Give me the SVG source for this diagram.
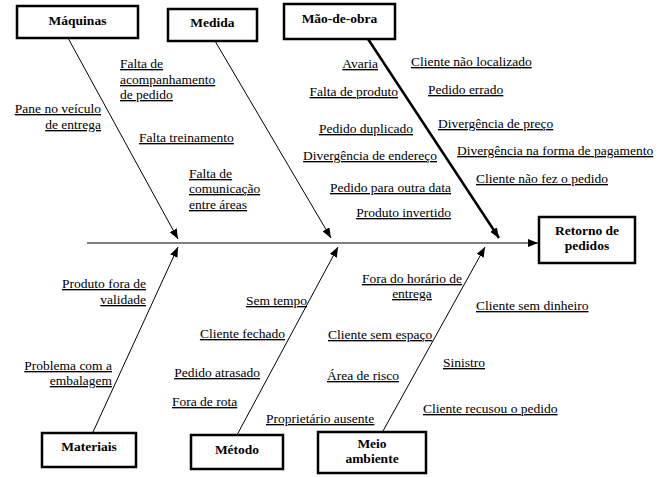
<svg xmlns="http://www.w3.org/2000/svg" width="661" height="477" viewBox="0 0 661 477">
<style>
.box{fill:#fff;stroke:#000;stroke-width:2.5}
.lbl{font-family:"Liberation Serif","Times New Roman",serif;font-size:13.5px;font-weight:bold;fill:#000;text-anchor:middle}
.t{font-family:"Liberation Serif","Times New Roman",serif;font-size:13.5px;fill:#000;text-decoration:underline}
.e{text-anchor:end}
.m{text-anchor:middle}
.ln{stroke:#000;stroke-width:1;fill:none}
</style>
<defs>
<marker id="ah" viewBox="0 0 10 8" refX="10" refY="4" markerWidth="10" markerHeight="8" markerUnits="userSpaceOnUse" orient="auto">
<path d="M0,0 L10,4 L0,8 Z" fill="#000"/>
</marker>
</defs>
<rect width="661" height="477" fill="#fff"/>
<g id="connectors">
<line class="ln" x1="87" y1="243" x2="538" y2="243" stroke-width="1.3" marker-end="url(#ah)"/>
<line class="ln" x1="68" y1="38" x2="178" y2="239" marker-end="url(#ah)"/>
<line class="ln" x1="215" y1="41" x2="331" y2="238" marker-end="url(#ah)"/>
<line class="ln" x1="368" y1="39" x2="499" y2="238" style="stroke-width:2.5" marker-end="url(#ah)"/>
<line class="ln" x1="93" y1="432" x2="178" y2="247" marker-end="url(#ah)"/>
<line class="ln" x1="237" y1="435" x2="338" y2="247" marker-end="url(#ah)"/>
<line class="ln" x1="383" y1="431" x2="485" y2="247" marker-end="url(#ah)"/>
</g>
<g id="maquinas">
<rect class="box" x="17" y="6" width="121" height="32"/>
<text class="lbl" x="77.5" y="25">Máquinas</text>
</g>
<g id="medida">
<rect class="box" x="168" y="9" width="89" height="32"/>
<text class="lbl" x="212.5" y="27">Medida</text>
</g>
<g id="maodeobra">
<rect class="box" x="284" y="4" width="111" height="35"/>
<text class="lbl" x="339.5" y="23">Mão-de-obra</text>
</g>
<g id="retorno">
<rect class="box" x="539" y="217" width="96" height="46"/>
<text class="lbl" x="587" y="235">Retorno de</text>
<text class="lbl" x="587" y="250">pedidos</text>
</g>
<g id="materiais">
<rect class="box" x="42" y="433" width="94" height="34"/>
<text class="lbl" x="89" y="451">Materiais</text>
</g>
<g id="metodo">
<rect class="box" x="191" y="435" width="92" height="34"/>
<text class="lbl" x="237" y="454">Método</text>
</g>
<g id="meioambiente">
<rect class="box" x="318" y="432" width="108" height="41"/>
<text class="lbl" x="372" y="448">Meio</text>
<text class="lbl" x="372" y="463">ambiente</text>
</g>
<g id="causes-maquinas">
<text class="t e" x="101" y="113">Pane no veículo</text>
<text class="t e" x="101" y="129">de entrega</text>
</g>
<g id="causes-medida">
<text class="t" x="120" y="68">Falta de</text>
<text class="t" x="120" y="84">acompanhamento</text>
<text class="t" x="120" y="99">de pedido</text>
<text class="t" x="139" y="142">Falta treinamento</text>
<text class="t" x="189" y="178">Falta de</text>
<text class="t" x="189" y="193">comunicação</text>
<text class="t" x="189" y="209">entre áreas</text>
</g>
<g id="causes-maodeobra">
<text class="t e" x="378" y="68">Avaria</text>
<text class="t e" x="398" y="96">Falta de produto</text>
<text class="t e" x="413" y="133">Pedido duplicado</text>
<text class="t e" x="437" y="160">Divergência de endereço</text>
<text class="t e" x="451" y="192">Pedido para outra data</text>
<text class="t e" x="451" y="217">Produto invertido</text>
<text class="t" x="411" y="66">Cliente não localizado</text>
<text class="t" x="428" y="94">Pedido errado</text>
<text class="t" x="438" y="128">Divergência de preço</text>
<text class="t" x="457" y="155">Divergência na forma de pagamento</text>
<text class="t" x="476" y="183">Cliente não fez o pedido</text>
</g>
<g id="causes-materiais">
<text class="t e" x="146" y="288">Produto fora de</text>
<text class="t e" x="146" y="304">validade</text>
<text class="t e" x="112" y="370">Problema com a</text>
<text class="t e" x="112" y="385">embalagem</text>
</g>
<g id="causes-metodo">
<text class="t e" x="307" y="305">Sem tempo</text>
<text class="t e" x="285" y="338">Cliente fechado</text>
<text class="t e" x="260" y="377">Pedido atrasado</text>
<text class="t" x="172" y="406">Fora de rota</text>
<text class="t" x="266" y="423">Proprietário ausente</text>
</g>
<g id="causes-meioambiente">
<text class="t m" x="412" y="283">Fora do horário de</text>
<text class="t m" x="412" y="298">entrega</text>
<text class="t" x="328" y="339">Cliente sem espaço</text>
<text class="t" x="327" y="380">Área de risco</text>
<text class="t" x="476" y="310">Cliente sem dinheiro</text>
<text class="t" x="443" y="367">Sinistro</text>
<text class="t" x="423" y="413">Cliente recusou o pedido</text>
</g>
</svg>
